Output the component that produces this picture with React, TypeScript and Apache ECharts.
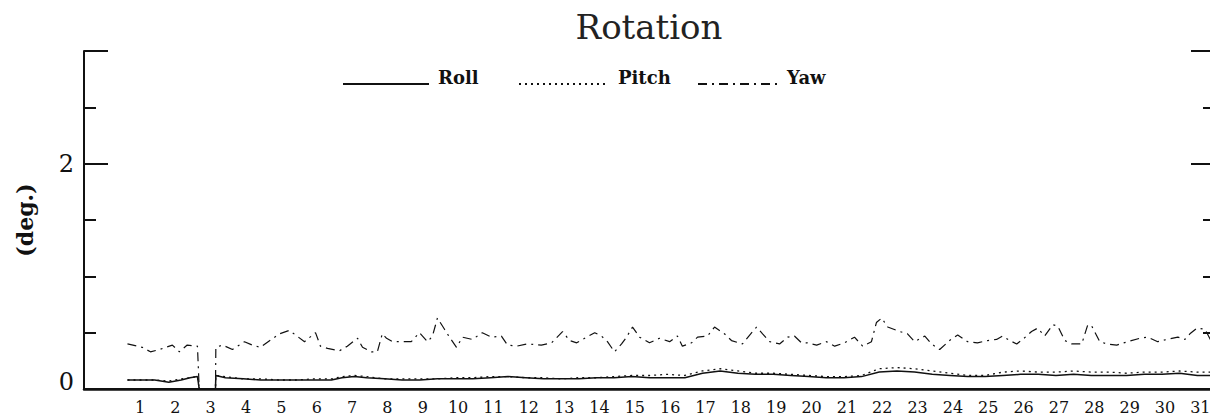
import React, { useEffect, useRef } from "react";
import * as echarts from "echarts";

// x-axis day labels (first band is an unlabeled day 0)
const dayLabels: string[] = ["", ...Array.from({ length: 31 }, (_, i) => String(i + 1))];

// Roll / Pitch sample times (days) and values (deg.)
const rpTimes: number[] = [
  1.23, 1.6, 2.0, 2.4, 2.75, 3.0, 3.21, 3.26, 3.72, 3.73, 4.0, 4.5, 5.0, 5.5, 6.0, 6.5, 7.0, 7.3, 7.65, 8.0,
  8.5, 9.0, 9.5, 10.0, 10.5, 11.0, 11.5, 12.0, 12.5, 13.0, 13.5, 14.0, 14.5, 15.0, 15.5, 16.0, 16.5, 17.0,
  17.5, 18.0, 18.5, 19.0, 19.5, 20.0, 20.5, 21.0, 21.5, 22.0, 22.5, 23.0, 23.5, 24.0, 24.5, 25.0, 25.5,
  26.0, 26.5, 27.0, 27.5, 28.0, 28.5, 29.0, 29.5, 30.0, 30.5, 31.0, 31.5, 31.95,
];
const rollValues: number[] = [
  0.08, 0.08, 0.08, 0.06, 0.08, 0.1, 0.11, 0, 0, 0.12, 0.1, 0.09, 0.08, 0.08, 0.08, 0.08, 0.08, 0.1, 0.11, 0.1,
  0.09, 0.08, 0.08, 0.09, 0.09, 0.09, 0.1, 0.11, 0.1, 0.09, 0.09, 0.09, 0.1, 0.1, 0.11, 0.1, 0.1, 0.1,
  0.14, 0.16, 0.14, 0.13, 0.13, 0.12, 0.11, 0.1, 0.1, 0.11, 0.15, 0.16, 0.15, 0.13, 0.12, 0.11, 0.11,
  0.12, 0.13, 0.13, 0.12, 0.13, 0.12, 0.12, 0.12, 0.13, 0.13, 0.14, 0.12, 0.12,
];
const pitchValues: number[] = [
  0.08, 0.08, 0.08, 0.07, 0.09, 0.1, 0.11, 0, 0, 0.12, 0.11, 0.09, 0.09, 0.08, 0.08, 0.09, 0.09, 0.11, 0.12, 0.11,
  0.09, 0.09, 0.09, 0.09, 0.1, 0.1, 0.11, 0.11, 0.1, 0.1, 0.09, 0.1, 0.1, 0.11, 0.12, 0.12, 0.13, 0.12,
  0.16, 0.18, 0.16, 0.14, 0.14, 0.13, 0.12, 0.11, 0.11, 0.12, 0.18, 0.19, 0.18, 0.16, 0.14, 0.12, 0.12,
  0.15, 0.16, 0.15, 0.15, 0.16, 0.15, 0.15, 0.14, 0.15, 0.15, 0.16, 0.15, 0.15,
];

// Yaw sample times (days) and values (deg.)
const yawTimes: number[] = [
  1.23, 1.65, 1.88, 2.13, 2.5, 2.7, 2.92, 3.21, 3.26, 3.72, 3.73, 3.92, 4.2, 4.54, 4.76, 4.99, 5.53, 5.81,
  6.24, 6.55, 6.69, 6.89, 7.23, 7.45, 7.74, 7.88, 8.13, 8.3, 8.44, 8.56, 8.73, 8.98, 9.26, 9.49, 9.72, 9.86,
  10.0, 10.2, 10.34, 10.54, 10.71, 10.99, 11.27, 11.53, 11.81, 11.98, 12.24, 12.55, 12.94, 13.23, 13.45,
  13.54, 13.74, 13.94, 14.22, 14.45, 14.64, 14.81, 15.01, 15.21, 15.35, 15.52, 15.72, 16.0, 16.28, 16.57,
  16.79, 16.93, 17.19, 17.36, 17.64, 17.84, 18.12, 18.32, 18.63, 18.92, 19.03, 19.2, 19.4, 19.68, 19.91,
  20.1, 20.3, 20.47, 20.73, 21.01, 21.24, 21.52, 21.8, 22.03, 22.28, 22.42, 22.57, 22.74, 23.08, 23.3,
  23.5, 23.79, 23.98, 24.21, 24.49, 24.72, 25.0, 25.28, 25.57, 25.82, 25.99, 26.19, 26.39, 26.56, 26.81,
  26.98, 27.18, 27.41, 27.55, 27.75, 27.95, 28.23, 28.4, 28.51, 28.74, 28.94, 29.22, 29.53, 29.87, 30.1,
  30.38, 30.64, 30.95, 31.15, 31.29, 31.49, 31.72, 31.9,
];
const yawValues: number[] = [
  0.4, 0.37, 0.33, 0.35, 0.39, 0.33, 0.39, 0.38, 0, 0, 0.37, 0.39, 0.35, 0.42, 0.39, 0.37, 0.49, 0.52,
  0.42, 0.5, 0.38, 0.36, 0.34, 0.38, 0.45, 0.37, 0.33, 0.33, 0.49, 0.45, 0.42, 0.42, 0.42, 0.5, 0.42, 0.47,
  0.63, 0.53, 0.46, 0.37, 0.46, 0.44, 0.5, 0.46, 0.47, 0.39, 0.38, 0.4, 0.39, 0.41, 0.48,
  0.51, 0.43, 0.41, 0.46, 0.5, 0.47, 0.42, 0.33, 0.4, 0.46, 0.55, 0.46, 0.41, 0.45, 0.42,
  0.47, 0.38, 0.41, 0.46, 0.47, 0.55, 0.49, 0.43, 0.4, 0.51, 0.55, 0.49, 0.42, 0.4, 0.46,
  0.47, 0.41, 0.41, 0.39, 0.42, 0.38, 0.41, 0.46, 0.38, 0.42, 0.59, 0.63, 0.55, 0.51, 0.49,
  0.42, 0.47, 0.4, 0.35, 0.43, 0.48, 0.42, 0.41, 0.43, 0.44, 0.47, 0.43, 0.4, 0.44, 0.51,
  0.54, 0.47, 0.57, 0.56, 0.43, 0.4, 0.4, 0.57, 0.56, 0.42, 0.4, 0.39, 0.42, 0.45, 0.46,
  0.42, 0.44, 0.46, 0.44, 0.49, 0.54, 0.53, 0.42,
];

const FONT = "DejaVu Serif";

function pairs(t: number[], v: number[]) {
  return t.map((x, i) => [x, v[i]]);
}

export default function App() {
  const ref = useRef<HTMLDivElement>(null);
  useEffect(() => {
    if (!ref.current) return;
    const chart = echarts.init(ref.current, undefined, { renderer: "svg" });
    const black = "#111";
    const yBase = {
      type: "value",
      min: 0,
      max: 3,
      splitLine: { show: false },
    };
    const legendBase = (name: string, left: number, width: number) => ({
      data: [name],
      left,
      top: 68,
      padding: 0,
      itemWidth: width,
      itemHeight: 14,
      itemStyle: { color: "rgba(0,0,0,0)", borderColor: "rgba(0,0,0,0)", borderWidth: 0, opacity: 0 },
      formatter: "{a|{name}}",
      textStyle: {
        fontFamily: FONT,
        fontSize: 18,
        fontWeight: "bold",
        color: black,
        rich: {
          a: { fontFamily: FONT, fontSize: 18, fontWeight: "bold", color: black, padding: [0, 0, 14, 4] },
        },
      },
    });
    chart.setOption({
      animation: false,
      backgroundColor: "#fff",
      title: {
        text: "Rotation",
        left: 644,
        top: 5,
        textAlign: "center",
        textStyle: { fontFamily: FONT, fontSize: 34, fontWeight: "normal", color: "#222" },
      },
      legend: [legendBase("Roll", 342, 86), legendBase("Pitch", 518, 90), legendBase("Yaw", 697, 80)],
      grid: { left: 84, right: 5, top: 51, bottom: 24 },
      xAxis: [
        {
          type: "category",
          position: "bottom",
          data: dayLabels,
          boundaryGap: true,
          axisLine: { lineStyle: { color: black, width: 2.5 } },
          axisTick: { inside: true, length: 9, interval: 0, lineStyle: { color: black, width: 2 } },
          axisLabel: {
            interval: 0,
            margin: 10,
            fontFamily: FONT,
            fontSize: 16,
            color: black,
            padding: [0, 0, 0, 6],
          },
          splitLine: { show: false },
        },
        {
          type: "category",
          position: "top",
          data: dayLabels,
          boundaryGap: true,
          axisLine: { lineStyle: { color: black, width: 2 } },
          axisTick: { inside: true, length: 6, interval: 0, lineStyle: { color: black, width: 1.5 } },
          axisLabel: { show: false },
          splitLine: { show: false },
        },
        {
          type: "value",
          min: 0,
          max: 32,
          show: false,
        },
      ],
      yAxis: [
        {
          ...yBase,
          position: "left",
          interval: 0.5,
          name: "(deg.)",
          nameLocation: "middle",
          nameRotate: 90,
          nameGap: 48,
          nameTextStyle: { fontFamily: FONT, fontSize: 22, fontWeight: "bold", color: black },
          axisLine: { show: true, lineStyle: { color: black, width: 2 } },
          axisTick: { inside: true, length: 12, lineStyle: { color: black, width: 2 } },
          axisLabel: {
            margin: 10,
            fontFamily: FONT,
            fontSize: 24,
            color: black,
            formatter: (v: number) => (v === 0 ? "{z|0}" : v === 2 ? "2" : ""),
            rich: { z: { fontFamily: FONT, fontSize: 24, color: black, padding: [0, 0, 14, 0] } },
          },
        },
        {
          ...yBase,
          position: "left",
          interval: 2,
          axisLine: { show: false },
          axisTick: { inside: true, length: 24, lineStyle: { color: black, width: 2 } },
          axisLabel: { show: false },
        },
        {
          ...yBase,
          position: "right",
          interval: 0.5,
          axisLine: { show: true, lineStyle: { color: black, width: 2 } },
          axisTick: { inside: true, length: 12, lineStyle: { color: black, width: 2 } },
          axisLabel: { show: false },
        },
        {
          ...yBase,
          position: "right",
          interval: 2,
          axisLine: { show: false },
          axisTick: { inside: true, length: 24, lineStyle: { color: black, width: 2 } },
          axisLabel: { show: false },
        },
      ],
      series: [
        {
          name: "Roll",
          type: "line",
          xAxisIndex: 2,
          yAxisIndex: 0,
          data: pairs(rpTimes, rollValues),
          symbol: "none",
          showSymbol: false,
          color: black,
          lineStyle: { color: black, width: 1.5, type: "solid" },
          z: 3,
        },
        {
          name: "Pitch",
          type: "line",
          xAxisIndex: 2,
          yAxisIndex: 0,
          data: pairs(rpTimes, pitchValues),
          symbol: "none",
          showSymbol: false,
          color: black,
          lineStyle: { color: black, width: 1.3, type: [2, 4] },
          z: 2,
        },
        {
          name: "Yaw",
          type: "line",
          xAxisIndex: 2,
          yAxisIndex: 0,
          data: pairs(yawTimes, yawValues),
          symbol: "none",
          showSymbol: false,
          color: black,
          lineStyle: { color: black, width: 1.2, type: [9, 5, 2, 5] },
          z: 2,
        },
      ],
    });
    return () => chart.dispose();
  }, []);
  return (
    <div
      ref={ref}
      style={{ position: "fixed", left: 0, top: 0, width: 1220, height: 415, background: "#fff" }}
    />
  );
}
